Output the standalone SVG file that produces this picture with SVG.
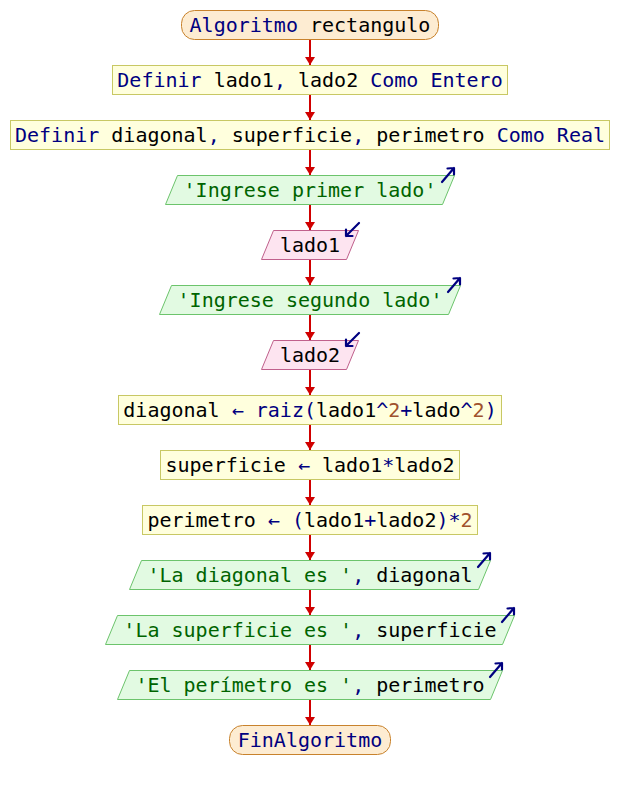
<svg xmlns="http://www.w3.org/2000/svg" xmlns:xlink="http://www.w3.org/1999/xlink" width="620" height="790" viewBox="0 0 620 790">
  <style>
    text { font-family: "DejaVu Sans Mono", "Liberation Mono", monospace; font-size: 20px; fill: #000000; text-anchor: middle; white-space: pre; }
    .kw { fill: #000080; }
    .str { fill: #006400; }
    .num { fill: #a0522d; }
    .term { fill: #fdecd2; stroke: #c8822c; stroke-width: 1; }
    .proc { fill: #ffffdd; stroke: #c8c864; stroke-width: 1; }
    .out { fill: #e2fae2; stroke: #6cc46c; stroke-width: 1; }
    .in { fill: #fde4f0; stroke: #c0608c; stroke-width: 1; }
    .flow { stroke: #d00000; stroke-width: 2; fill: none; }
    .icon { stroke: #000080; stroke-width: 2.2; fill: none; stroke-linecap: round; stroke-linejoin: round; }
  </style>
  <defs>
    <marker id="head" viewBox="0 0 8 10" refX="8" refY="5" markerWidth="8" markerHeight="10" markerUnits="userSpaceOnUse" orient="auto">
      <path d="M0,0 L8,5 L0,10 z" fill="#d00000"/>
    </marker>
    <!-- write marker: arrow leaving the top-right corner -->
    <g id="icon-out" class="icon">
      <path d="M-13,7 L-1,-7 M-7.5,-6.5 L-1,-7 L-1,-0.5"/>
    </g>
    <!-- read marker: arrow entering at the top-right corner -->
    <g id="icon-in" class="icon">
      <path d="M1,-7 L-12,6 M-5.5,6 L-12,6 L-12,-0.5"/>
    </g>
  </defs>

  <g id="connectors">
    <path class="flow" d="M310,40 V65" marker-end="url(#head)"/>
    <path class="flow" d="M310,95 V120" marker-end="url(#head)"/>
    <path class="flow" d="M310,150 V175" marker-end="url(#head)"/>
    <path class="flow" d="M310,205 V230" marker-end="url(#head)"/>
    <path class="flow" d="M310,260 V285" marker-end="url(#head)"/>
    <path class="flow" d="M310,315 V340" marker-end="url(#head)"/>
    <path class="flow" d="M310,370 V395" marker-end="url(#head)"/>
    <path class="flow" d="M310,425 V450" marker-end="url(#head)"/>
    <path class="flow" d="M310,480 V505" marker-end="url(#head)"/>
    <path class="flow" d="M310,535 V560" marker-end="url(#head)"/>
    <path class="flow" d="M310,590 V615" marker-end="url(#head)"/>
    <path class="flow" d="M310,645 V670" marker-end="url(#head)"/>
    <path class="flow" d="M310,700 V725" marker-end="url(#head)"/>
  </g>

  <g id="start">
    <rect class="term" x="181.5" y="10.5" width="257" height="29" rx="13" ry="13"/>
    <text x="310" y="32"><tspan class="kw">Algoritmo</tspan> rectangulo</text>
  </g>

  <g id="define-ints">
    <rect class="proc" x="112.5" y="65.5" width="395" height="29"/>
    <text x="310" y="87"><tspan class="kw">Definir</tspan> lado1<tspan class="kw">,</tspan> lado2 <tspan class="kw">Como Entero</tspan></text>
  </g>

  <g id="define-reals">
    <rect class="proc" x="10.5" y="120.5" width="599" height="29"/>
    <text x="310" y="142"><tspan class="kw">Definir</tspan> diagonal<tspan class="kw">,</tspan> superficie<tspan class="kw">,</tspan> perimetro <tspan class="kw">Como Real</tspan></text>
  </g>

  <g id="write-first">
    <polygon class="out" points="177.5,175.5 454.5,175.5 442.5,204.5 165.5,204.5"/>
    <text x="310" y="197"><tspan class="str">'Ingrese primer lado'</tspan></text>
    <use xlink:href="#icon-out" x="455" y="175"/>
  </g>

  <g id="read-first">
    <polygon class="in" points="273.5,230.5 358.5,230.5 346.5,259.5 261.5,259.5"/>
    <text x="310" y="252">lado1</text>
    <use xlink:href="#icon-in" x="358" y="230"/>
  </g>

  <g id="write-second">
    <polygon class="out" points="171.5,285.5 460.5,285.5 448.5,314.5 159.5,314.5"/>
    <text x="310" y="307"><tspan class="str">'Ingrese segundo lado'</tspan></text>
    <use xlink:href="#icon-out" x="461" y="285"/>
  </g>

  <g id="read-second">
    <polygon class="in" points="273.5,340.5 358.5,340.5 346.5,369.5 261.5,369.5"/>
    <text x="310" y="362">lado2</text>
    <use xlink:href="#icon-in" x="358" y="340"/>
  </g>

  <g id="calc-diagonal">
    <rect class="proc" x="118.5" y="395.5" width="383" height="29"/>
    <text x="310" y="417">diagonal <tspan class="kw">←</tspan> <tspan class="kw">raiz(</tspan>lado1<tspan class="kw">^</tspan><tspan class="num">2</tspan><tspan class="kw">+</tspan>lado<tspan class="kw">^</tspan><tspan class="num">2</tspan><tspan class="kw">)</tspan></text>
  </g>

  <g id="calc-area">
    <rect class="proc" x="160.5" y="450.5" width="299" height="29"/>
    <text x="310" y="472">superficie <tspan class="kw">←</tspan> lado1<tspan class="kw">*</tspan>lado2</text>
  </g>

  <g id="calc-perimeter">
    <rect class="proc" x="142.5" y="505.5" width="335" height="29"/>
    <text x="310" y="527">perimetro <tspan class="kw">←</tspan> <tspan class="kw">(</tspan>lado1<tspan class="kw">+</tspan>lado2<tspan class="kw">)*</tspan><tspan class="num">2</tspan></text>
  </g>

  <g id="write-diagonal">
    <polygon class="out" points="141.5,560.5 490.5,560.5 478.5,589.5 129.5,589.5"/>
    <text x="310" y="582"><tspan class="str">'La diagonal es '</tspan><tspan class="kw">,</tspan> diagonal</text>
    <use xlink:href="#icon-out" x="491" y="560"/>
  </g>

  <g id="write-area">
    <polygon class="out" points="117.5,615.5 514.5,615.5 502.5,644.5 105.5,644.5"/>
    <text x="310" y="637"><tspan class="str">'La superficie es '</tspan><tspan class="kw">,</tspan> superficie</text>
    <use xlink:href="#icon-out" x="515" y="615"/>
  </g>

  <g id="write-perimeter">
    <polygon class="out" points="129.5,670.5 502.5,670.5 490.5,699.5 117.5,699.5"/>
    <text x="310" y="692"><tspan class="str">'El perímetro es '</tspan><tspan class="kw">,</tspan> perimetro</text>
    <use xlink:href="#icon-out" x="503" y="670"/>
  </g>

  <g id="end">
    <rect class="term" x="229.5" y="725.5" width="161" height="29" rx="13" ry="13"/>
    <text x="310" y="747"><tspan class="kw">FinAlgoritmo</tspan></text>
  </g>
</svg>
